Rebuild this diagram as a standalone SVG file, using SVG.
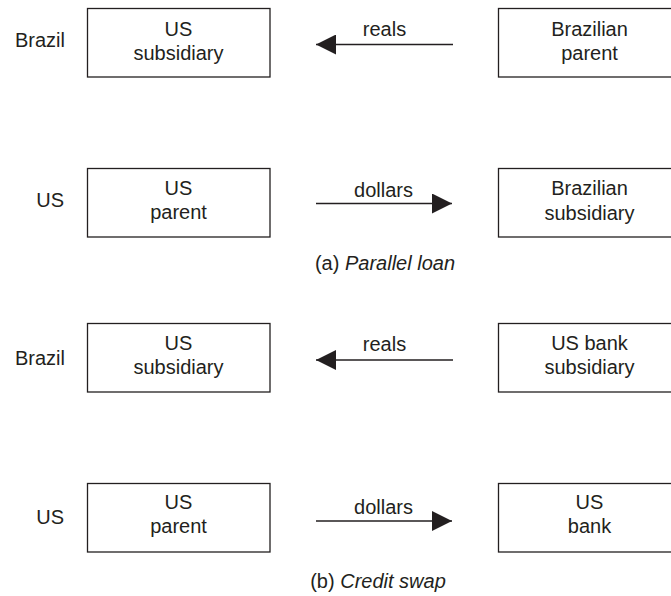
<svg xmlns="http://www.w3.org/2000/svg" width="671" height="596" viewBox="0 0 671 596">
<defs>
<marker id="ah" markerUnits="userSpaceOnUse" markerWidth="20" markerHeight="20" refX="20" refY="10" orient="auto">
<path d="M0,0 L20,10 L0,20 z" fill="#231f20"/>
</marker>
<style>
text{font-family:"Liberation Sans",Arial,sans-serif;font-size:20px;fill:#231f20}
.c{text-anchor:middle}
.r{text-anchor:end}
.box{fill:#fff;stroke:#231f20;stroke-width:1.3}
.arr{stroke:#231f20;stroke-width:1.3;fill:none;marker-end:url(#ah)}
.it{font-style:italic}
</style>
</defs>
<rect width="671" height="596" fill="#fff"/>

<g id="labels">
<text class="r" x="65" y="47">Brazil</text>
<text class="r" x="64" y="207">US</text>
<text class="r" x="65" y="365">Brazil</text>
<text class="r" x="64" y="524">US</text>
<text class="c" x="385" y="270">(a) <tspan class="it">Parallel loan</tspan></text>
<text class="c" x="378" y="588">(b) <tspan class="it">Credit swap</tspan></text>
</g>

<g id="a-us-subsidiary">
<rect class="box" x="87.5" y="8.5" width="182.5" height="68.5"/>
<text class="c" x="178.5" y="36">US</text>
<text class="c" x="178.5" y="60">subsidiary</text>
</g>
<g id="a-brazilian-parent">
<rect class="box" x="498.5" y="8.5" width="182.5" height="68.5"/>
<text class="c" x="589.5" y="36">Brazilian</text>
<text class="c" x="589.5" y="60">parent</text>
</g>
<g id="a-us-parent">
<rect class="box" x="87.5" y="168.5" width="182.5" height="68.5"/>
<text class="c" x="178.5" y="195">US</text>
<text class="c" x="178.5" y="219">parent</text>
</g>
<g id="a-brazilian-subsidiary">
<rect class="box" x="498.5" y="168.5" width="182.5" height="68.5"/>
<text class="c" x="589.5" y="195">Brazilian</text>
<text class="c" x="589.5" y="220">subsidiary</text>
</g>

<g id="b-us-subsidiary">
<rect class="box" x="87.5" y="323.5" width="182.5" height="68.5"/>
<text class="c" x="178.5" y="350">US</text>
<text class="c" x="178.5" y="374">subsidiary</text>
</g>
<g id="b-us-bank-subsidiary">
<rect class="box" x="498.5" y="323.5" width="182.5" height="68.5"/>
<text class="c" x="589.5" y="350">US bank</text>
<text class="c" x="589.5" y="374">subsidiary</text>
</g>
<g id="b-us-parent">
<rect class="box" x="87.5" y="483.5" width="182.5" height="68.5"/>
<text class="c" x="178.5" y="509">US</text>
<text class="c" x="178.5" y="533">parent</text>
</g>
<g id="b-us-bank">
<rect class="box" x="498.5" y="483.5" width="182.5" height="68.5"/>
<text class="c" x="589.5" y="509">US</text>
<text class="c" x="589.5" y="533">bank</text>
</g>

<g id="connectors">
<line class="arr" x1="453" y1="44.5" x2="316" y2="44.5"/>
<text class="c" x="384.5" y="36">reals</text>
<line class="arr" x1="316" y1="203.5" x2="452" y2="203.5"/>
<text class="c" x="383.5" y="197">dollars</text>
<line class="arr" x1="453" y1="360" x2="316" y2="360"/>
<text class="c" x="384.5" y="351">reals</text>
<line class="arr" x1="316" y1="521" x2="452" y2="521"/>
<text class="c" x="383.5" y="514">dollars</text>
</g>
</svg>
